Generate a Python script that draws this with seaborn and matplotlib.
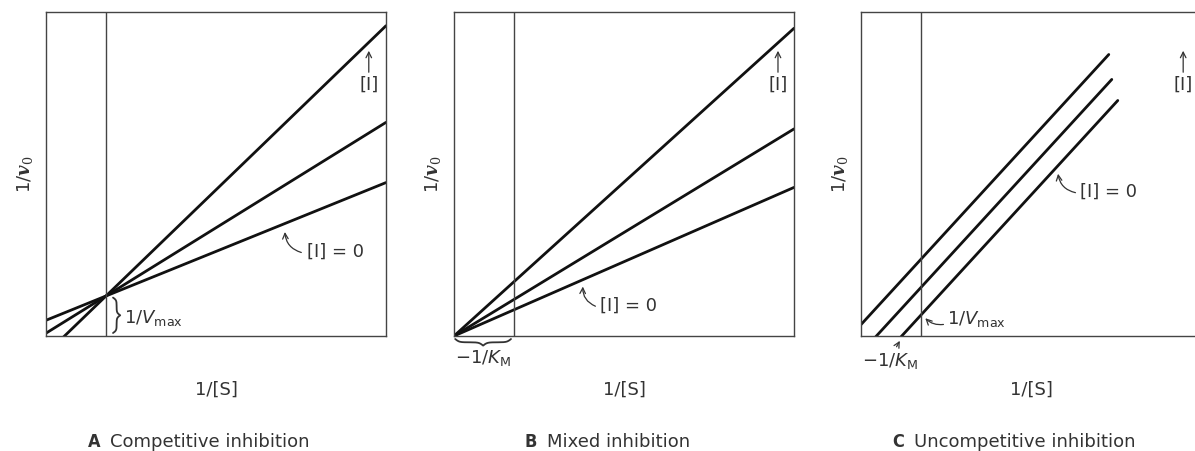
import numpy as np
import pandas as pd
import seaborn as sns
import matplotlib.pyplot as plt

# Panel A: competitive inhibition (shared y-intercept = 1/Vmax)
comp_intercept = 0.667
comp_slopes = [0.405, 0.62, 0.965]

# Panel B: mixed inhibition (lines meet on the x axis at -1/KM)
mixed_x_meet = -1.0
mixed_slopes = [0.437, 0.609, 0.905]

# Panel C: uncompetitive inhibition (parallel lines)
uncomp_slope = 1.09
uncomp_intercepts = [0.35, 0.81, 1.28]
uncomp_x_end = [3.28, 3.18, 3.13]

caption_letters = ["A", "B", "C"]
caption_texts = ["Competitive inhibition", "Mixed inhibition", "Uncompetitive inhibition"]

XMIN, XMAX = -1.0, 4.667
YMIN, YMAX = 0.0, 5.4
TXT = "#333333"
FS = 13


def brace(ax, s0, s1, base, depth, vertical=False):
    # curly brace drawn along s from s0 to s1, tip pointing by depth
    t = np.linspace(0, 0.5, 80)
    beta = 28
    half = 1 / (1 + np.exp(-beta * (t - t[0]))) + 1 / (1 + np.exp(-beta * (t - t[-1])))
    shape = np.concatenate((half, half[-2::-1]))
    shape = (shape - shape.min()) / (shape.max() - shape.min())
    s = np.linspace(s0, s1, len(shape))
    off = base + depth * shape
    if vertical:
        ax.plot(off, s, color=TXT, lw=1.3, clip_on=False)
    else:
        ax.plot(s, off, color=TXT, lw=1.3, clip_on=False)


def make_panel(fig, left_px, df):
    ax = fig.add_axes([left_px / 1195, 115 / 451, 340 / 1195, 324 / 451])
    sns.lineplot(data=df, x="x", y="y", units="line", estimator=None,
                 color="#111111", lw=2.0, ax=ax, legend=False)
    ax.axvline(0, color="#444444", lw=1.0)
    ax.set_xlim(XMIN, XMAX)
    ax.set_ylim(YMIN, YMAX)
    ax.set_xticks([])
    ax.set_yticks([])
    ax.set_xlabel("")
    ax.set_ylabel("")
    for sp in ax.spines.values():
        sp.set_color("#444444")
        sp.set_linewidth(1.0)
    ax.text(-0.062, 0.5, r"1/$\mathbfit{v}_0$", transform=ax.transAxes, rotation=90,
            ha="center", va="center", fontsize=FS, color=TXT, math_fontfamily="dejavuserif")
    ax.text(0.5, -0.167, "1/[S]", transform=ax.transAxes, ha="center", va="center",
            fontsize=FS, color=TXT)
    return ax


def inhib_arrow(ax, x):
    ax.text(x, 4.18, "[I]", ha="center", va="center", fontsize=FS, color=TXT)
    ax.annotate("", xy=(x, 4.8), xytext=(x, 4.35),
                arrowprops=dict(arrowstyle="->", color=TXT, lw=0.9))


def main():
    sns.set_style("white")
    plt.rcParams["font.family"] = ["DejaVu Sans"]

    fig = plt.figure(figsize=(11.95, 4.51), dpi=100)

    # --- A ---
    rows = []
    for i, m in enumerate(comp_slopes):
        for x in [XMIN, XMAX]:
            rows.append({"line": i, "x": x, "y": comp_intercept + m * x})
    ax = make_panel(fig, 46, pd.DataFrame(rows))
    ax.text(3.35, 1.4, "[I] = 0", ha="left", va="center", fontsize=FS, color=TXT)
    ax.annotate("", xy=(2.98, 1.78), xytext=(3.3, 1.38),
                arrowprops=dict(arrowstyle="->", color=TXT, lw=0.9,
                                connectionstyle="arc3,rad=-0.4"))
    inhib_arrow(ax, 4.38)
    brace(ax, 0.05, 0.64, 0.117, 0.12, vertical=True)
    ax.text(0.3, 0.3, r"1/$V_\mathrm{max}$", ha="left", va="center", fontsize=FS, color=TXT)

    # --- B ---
    rows = []
    for i, m in enumerate(mixed_slopes):
        for x in [XMIN, XMAX]:
            rows.append({"line": i, "x": x, "y": m * (x - mixed_x_meet)})
    ax = make_panel(fig, 454, pd.DataFrame(rows))
    ax.text(1.43, 0.5, "[I] = 0", ha="left", va="center", fontsize=FS, color=TXT)
    ax.annotate("", xy=(1.15, 0.87), xytext=(1.4, 0.48),
                arrowprops=dict(arrowstyle="->", color=TXT, lw=0.9,
                                connectionstyle="arc3,rad=-0.4"))
    inhib_arrow(ax, 4.4)
    brace(ax, -0.98, -0.05, -0.05, -0.11)
    ax.text(-0.99, -0.37, r"$-$1/$K_\mathrm{M}$", ha="left", va="center", fontsize=FS, color=TXT)

    # --- C ---
    rows = []
    for i, (b, xe) in enumerate(zip(uncomp_intercepts, uncomp_x_end)):
        for x in [XMIN, xe]:
            rows.append({"line": i, "x": x, "y": b + uncomp_slope * x})
    ax = make_panel(fig, 861, pd.DataFrame(rows))
    ax.text(2.65, 2.4, "[I] = 0", ha="left", va="center", fontsize=FS, color=TXT)
    ax.annotate("", xy=(2.28, 2.75), xytext=(2.62, 2.38),
                arrowprops=dict(arrowstyle="->", color=TXT, lw=0.9,
                                connectionstyle="arc3,rad=-0.4"))
    inhib_arrow(ax, 4.37)
    ax.text(0.43, 0.28, r"1/$V_\mathrm{max}$", ha="left", va="center", fontsize=FS, color=TXT)
    ax.annotate("", xy=(0.04, 0.33), xytext=(0.42, 0.2),
                arrowprops=dict(arrowstyle="->", color=TXT, lw=0.9,
                                connectionstyle="arc3,rad=-0.3"))
    ax.text(-0.99, -0.42, r"$-$1/$K_\mathrm{M}$", ha="left", va="center", fontsize=FS, color=TXT)
    ax.annotate("", xy=(-0.33, -0.04), xytext=(-0.43, -0.22),
                arrowprops=dict(arrowstyle="->", color=TXT, lw=0.9), annotation_clip=False)

    # captions
    for left_px, letter, text in zip([88, 525, 892], caption_letters, caption_texts):
        fig.text(left_px / 1195, 0.02, letter, fontsize=FS, fontweight="bold",
                 fontstretch="condensed", color=TXT, va="center", ha="left")
        fig.text((left_px + 22) / 1195, 0.02, text, fontsize=FS, color=TXT,
                 va="center", ha="left")

    fig.savefig("out.png", dpi=100)


if __name__ == "__main__":
    main()
